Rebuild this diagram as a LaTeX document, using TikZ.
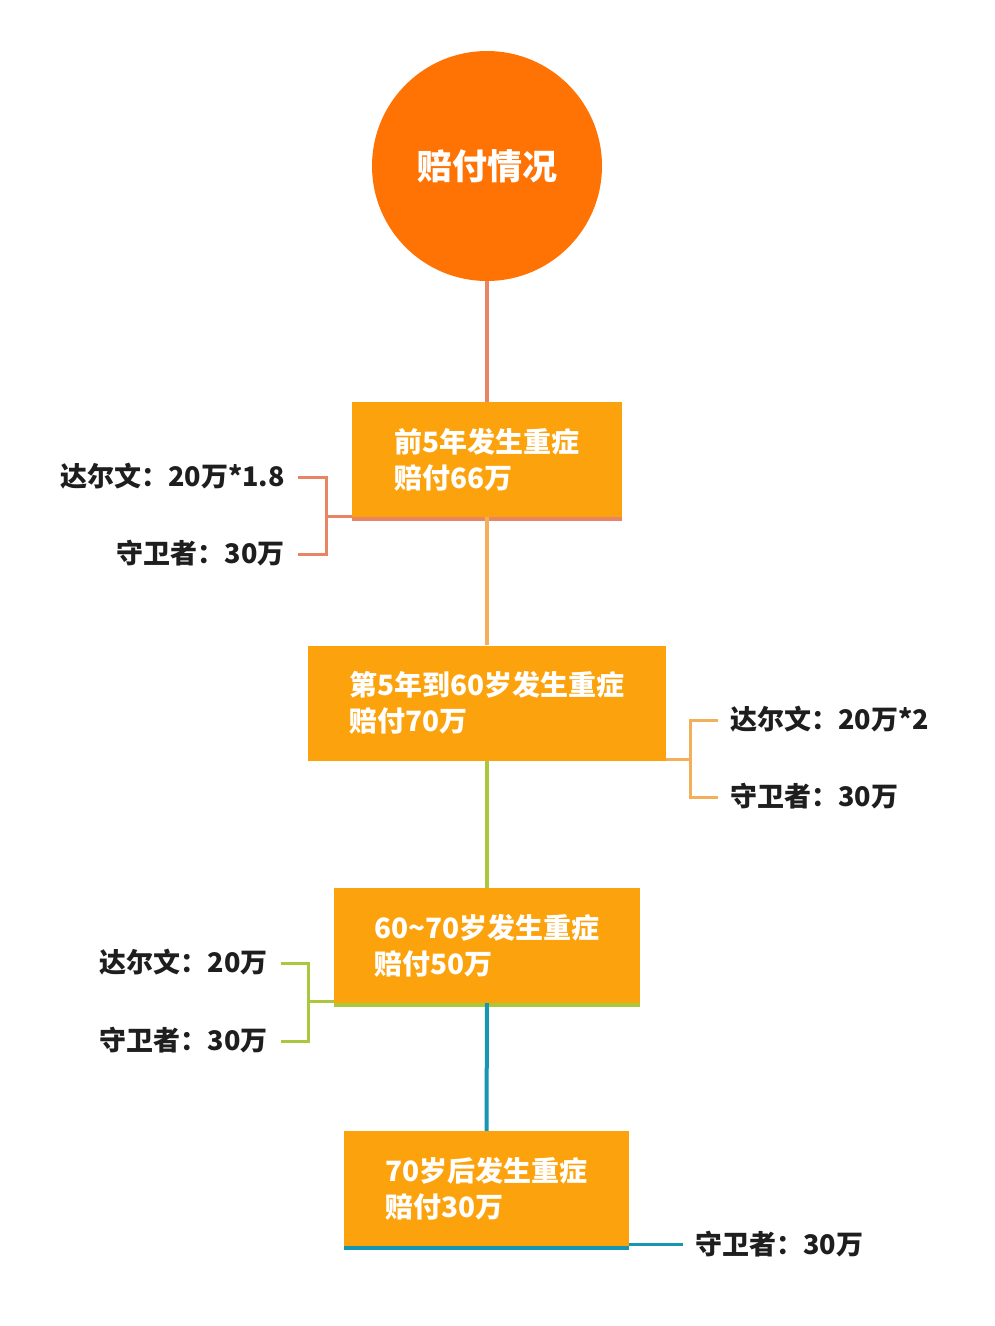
\documentclass[tikz,border=0pt]{standalone}
\usepackage{fontspec}
\newfontfamily\cjk{Noto Sans CJK SC}
\definecolor{circlecol}{RGB}{255,115,5}
\definecolor{boxcol}{RGB}{252,162,12}
\definecolor{cA}{RGB}{232,133,100}
\definecolor{cB}{RGB}{243,175,90}
\definecolor{cC}{RGB}{170,200,60}
\definecolor{cD}{RGB}{22,150,178}
\definecolor{txt}{RGB}{30,30,30}
\tikzset{
  stagebox/.style={fill=boxcol, draw=none, align=left, inner xsep=0pt, minimum height=115pt,
    text=white, font=\cjk\bfseries\fontsize{28}{36}\selectfont},
  lab/.style={inner sep=0pt, text=txt, font=\cjk\bfseries\fontsize{27}{30}\selectfont,
    text height=23pt, text depth=4pt},
  trunk/.style={line width=4pt},
  brace/.style={line width=3pt},
}
\begin{document}
\begin{tikzpicture}[x=1pt,y=-1pt]
\useasboundingbox (0,0) rectangle (994,1326);
\fill[white] (0,0) rectangle (994,1326);
% title circle
\node[circle, fill=circlecol, minimum size=230pt, inner sep=0pt, text=white,
  font=\cjk\bfseries\fontsize{35}{40}\selectfont] (top) at (487,166) {赔付情况};
% stage boxes
\node[stagebox, minimum width=270pt] (b1) at (487,459.5) {前5年发生重症\\赔付66万};
\node[stagebox, minimum width=358pt] (b2) at (487,703) {第5年到60岁发生重症\\赔付70万};
\node[stagebox, minimum width=306pt] (b3) at (487,945.5) {60\textasciitilde70岁发生重症\\赔付50万};
\node[stagebox, minimum width=285pt] (b4) at (486.5,1188.5) {70岁后发生重症\\赔付30万};
% bottom borders
\draw[cA, line width=4pt] ([yshift=-2]b1.south west) -- ([yshift=-2]b1.south east);
\draw[cC, line width=4pt] ([yshift=-2]b3.south west) -- ([yshift=-2]b3.south east);
\draw[cD, line width=4pt] ([yshift=-2]b4.south west) -- ([yshift=-2]b4.south east);
% trunk
\draw[trunk, cA] (top.south) -- (b1.north);
\draw[trunk, cB] (b1.south) -- (b2.north);
\draw[trunk, cC] (b2.south) -- (b3.north);
\draw[trunk, cD] (b3.south) -- (b4.north);
% labels
\node[lab, anchor=east] (l1a) at (285,477) {达尔文：20万*1.8};
\node[lab, anchor=east] (l1b) at (285,554) {守卫者：30万};
\node[lab, anchor=west] (l2a) at (730,720) {达尔文：20万*2};
\node[lab, anchor=west] (l2b) at (730,797) {守卫者：30万};
\node[lab, anchor=east] (l3a) at (268,963) {达尔文：20万};
\node[lab, anchor=east] (l3b) at (268,1041) {守卫者：30万};
\node[lab, anchor=west] (l4a) at (695,1245) {守卫者：30万};
% junctions
\coordinate (j1) at (326,516);
\coordinate (j2) at (690,759);
\coordinate (j3) at (308,1001);
\coordinate (j4) at (683,1244);
% brackets
\draw[brace, cA] ([xshift=13]l1a.east) -- (l1a.east -| j1) -- (l1b.east -| j1) -- ([xshift=13]l1b.east);
\draw[brace, cA] (j1) -- (j1 -| b1.west);
\draw[brace, cB] ([xshift=-12]l2a.west) -- (l2a.west -| j2) -- (l2b.west -| j2) -- ([xshift=-12]l2b.west);
\draw[brace, cB] (j2) -- (j2 -| b2.east);
\draw[brace, cC] ([xshift=13]l3a.east) -- (l3a.east -| j3) -- (l3b.east -| j3) -- ([xshift=13]l3b.east);
\draw[brace, cC] (j3) -- (j3 -| b3.west);
\draw[brace, cD] (j4 -| b4.east) -- (j4);
\end{tikzpicture}
\end{document}
